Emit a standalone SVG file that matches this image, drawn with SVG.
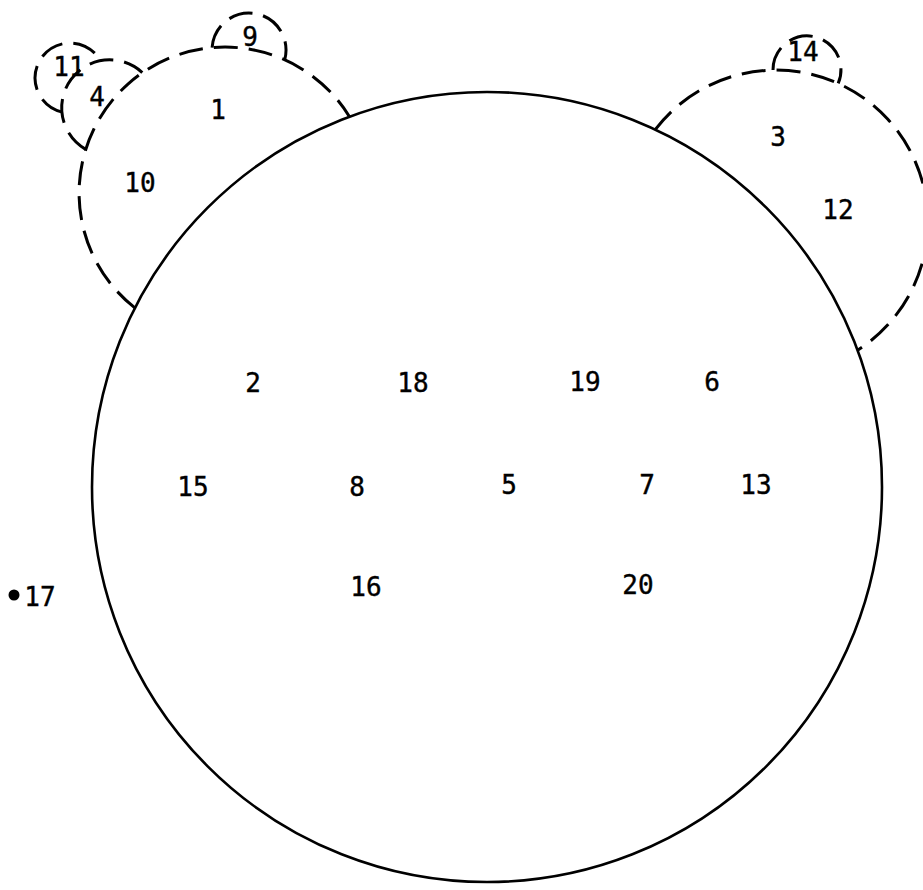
<svg xmlns="http://www.w3.org/2000/svg" width="923" height="890" viewBox="0 0 923 890">
<style>
.solid{fill:none;stroke:#000;stroke-width:2.6}
.dash{fill:none;stroke:#000;stroke-width:3;stroke-dasharray:24 11}
.lbl{font-family:"DejaVu Sans Mono","Liberation Mono",monospace;font-size:26px;fill:#000;stroke:#000;stroke-width:0.4;text-anchor:middle}
</style>
<rect width="923" height="890" fill="#fff"/>
<g id="connectors"></g>
<g id="main">
<circle class="solid" cx="487" cy="487" r="395"/>
<text class="lbl" x="253" y="392">2</text>
<text class="lbl" x="413" y="392">18</text>
<text class="lbl" x="585" y="391">19</text>
<text class="lbl" x="712" y="391">6</text>
<text class="lbl" x="193" y="496">15</text>
<text class="lbl" x="357" y="496">8</text>
<text class="lbl" x="509" y="494">5</text>
<text class="lbl" x="647" y="494">7</text>
<text class="lbl" x="756" y="494">13</text>
<text class="lbl" x="366" y="596">16</text>
<text class="lbl" x="638" y="594">20</text>
</g>
<g id="c1">
<path class="dash" d="M134.9,307.9 A146,146 0 1 1 349.5,116.7"/>
<text class="lbl" x="218" y="119">1</text>
<text class="lbl" x="140" y="192">10</text>
</g>
<g id="c4">
<path class="dash" d="M85.7,149.4 A48,48 0 1 1 142.3,72.6"/>
<text class="lbl" x="97" y="106">4</text>
</g>
<g id="c11">
<path class="dash" d="M62.2,112.1 A35,35 0 1 1 100.6,60.9"/>
<text class="lbl" x="69" y="76">11</text>
</g>
<g id="c9">
<path class="dash" d="M212.1,47.6 A37,37 0 1 1 284.7,59.8"/>
<text class="lbl" x="250" y="46">9</text>
</g>
<g id="c3">
<path class="dash" d="M655.2,129.6 A152,152 0 1 1 857.6,350.2"/>
<text class="lbl" x="778" y="146">3</text>
<text class="lbl" x="838" y="219">12</text>
</g>
<g id="c14">
<path class="dash" d="M773,70 A34,34 0 1 1 838.2,83.4"/>
<text class="lbl" x="803" y="61">14</text>
</g>
<g id="n17">
<circle cx="14" cy="595" r="5.5" fill="#000"/>
<text class="lbl" x="40" y="606">17</text>
</g>
</svg>
